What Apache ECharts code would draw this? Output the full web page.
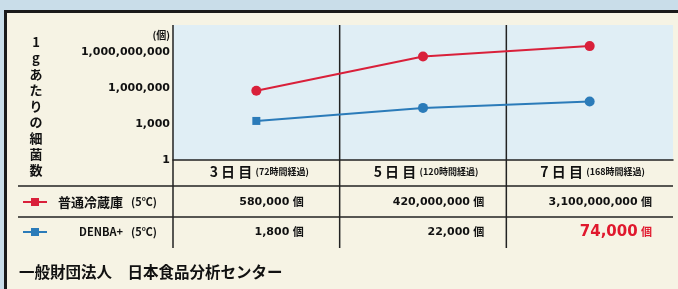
<!DOCTYPE html>
<html lang="ja">
<head>
    <meta charset="UTF-8">
    <title>細菌数の推移</title>
    <script src="https://cdn.jsdelivr.net/npm/echarts@6/dist/echarts.min.js"></script>
    <style>
        html, body { margin: 0; padding: 0; background: #c9dde9; }
        #main { width: 678px; height: 289px; }
    </style>
</head>
<body>
<div id="main"></div>
<script>
    // データ
    var categories = ['3日目', '5日目', '7日目'];
    var hourLabels = ['(72時間経過)', '(120時間経過)', '(168時間経過)'];
    var seriesNames = ['普通冷蔵庫', 'DENBA+'];
    var fridgeValues = [580000, 420000000, 3100000000];
    var denbaValues = [1800, 22000, 74000];
    var yTicks = [1, 1000, 1000000, 1000000000];

    var RED = '#d9203a';
    var BLUE = '#2b7bb9';
    var CJK = '"Noto Sans CJK JP", sans-serif';
    var NUM = '"DejaVu Sans", sans-serif';

    var myChart = echarts.init(document.getElementById('main'));

    function fmt(v) {
        return v.toString().replace(/\B(?=(\d{3})+(?!\d))/g, ',');
    }

    var option = {
        animation: false,
        backgroundColor: '#f6f3e4',
        grid: {
            left: 173,
            right: 5,
            top: 25,
            bottom: 129,
            show: true,
            backgroundColor: '#e0eef5',
            borderWidth: 0
        },
        xAxis: {
            type: 'category',
            data: categories,
            boundaryGap: true,
            axisLine: {lineStyle: {color: '#222', width: 1.5}},
            axisTick: {show: false},
            axisLabel: {show: false},
            splitLine: {show: false}
        },
        yAxis: {
            type: 'log',
            logBase: 1000,
            min: 1,
            max: Math.pow(1000, 3.75),
            axisLine: {show: false},
            axisTick: {show: false},
            splitLine: {show: false},
            axisLabel: {
                margin: 3,
                padding: [5, 0, 0, 0],
                color: '#111',
                fontFamily: NUM,
                fontWeight: 'bold',
                fontSize: 11,
                showMaxLabel: false,
                formatter: function (v) {
                    for (var i = 0; i < yTicks.length; i++) {
                        if (Math.abs(v - yTicks[i]) / yTicks[i] < 1e-6) return fmt(yTicks[i]);
                    }
                    return '';
                }
            }
        },
        series: [{
            name: seriesNames[0],
            type: 'line',
            data: fridgeValues,
            symbol: 'circle',
            symbolSize: 10,
            itemStyle: {color: RED},
            lineStyle: {color: RED, width: 2}
        }, {
            name: seriesNames[1],
            type: 'line',
            data: denbaValues.map(function (v, i) {
                return i === 0 ? {value: v, symbol: 'rect', symbolSize: 8} : v;
            }),
            symbol: 'circle',
            symbolSize: 10,
            itemStyle: {color: BLUE},
            lineStyle: {color: BLUE, width: 2}
        }]
    };

    myChart.setOption(option);

    // 表部分
    var centers = categories.map(function (c) {
        return myChart.convertToPixel({xAxisIndex: 0}, c);
    });
    var colW = centers[1] - centers[0];
    var left = centers[0] - colW / 2;
    var right = centers[2] + colW / 2;
    var rowTop = [160, 186, 217];
    var rowMid = [172, 202, 232];
    var valueOffset = [36, 22, 21];

    var g = [];
    // 枠
    g.push({type: 'rect', shape: {x: 0, y: 0, width: 678, height: 10}, style: {fill: '#c9dde9'}});
    g.push({type: 'rect', shape: {x: 0, y: 0, width: 4, height: 289}, style: {fill: '#c9dde9'}});
    g.push({type: 'rect', shape: {x: 4, y: 10, width: 674, height: 3}, style: {fill: '#1a1a1a'}});
    g.push({type: 'rect', shape: {x: 4, y: 10, width: 3, height: 279}, style: {fill: '#1a1a1a'}});

    // 罫線
    [rowTop[1], rowTop[2]].forEach(function (y) {
        g.push({type: 'line', shape: {x1: 18, y1: y, x2: right, y2: y}, style: {stroke: '#222', lineWidth: 1.5}});
    });
    [left, left + colW, left + 2 * colW].forEach(function (x) {
        g.push({type: 'line', shape: {x1: x, y1: 25, x2: x, y2: 248}, style: {stroke: '#222', lineWidth: 1.5}});
    });

    // 見出し
    categories.forEach(function (c, i) {
        g.push({
            type: 'text', x: centers[i] + 3, y: rowMid[0],
            style: {
                text: '{a|' + c.split('').join(' ') + '} {b|' + hourLabels[i] + '}',
                align: 'center', verticalAlign: 'middle',
                rich: {
                    a: {fontFamily: CJK, fontWeight: 'bold', fontSize: 14, fill: '#111'},
                    b: {fontFamily: CJK, fontWeight: 'bold', fontSize: 9, fill: '#111'}
                }
            }
        });
    });

    // 数値
    fridgeValues.forEach(function (v, i) {
        g.push({
            type: 'text', x: left + colW * (i + 1) - valueOffset[i], y: rowMid[1],
            style: {
                text: '{n|' + fmt(v) + '} {u|個}', align: 'right', verticalAlign: 'middle',
                rich: {
                    n: {fontFamily: NUM, fontWeight: 'bold', fontSize: 11, fill: '#111'},
                    u: {fontFamily: CJK, fontWeight: 'bold', fontSize: 11, fill: '#111'}
                }
            }
        });
    });
    denbaValues.forEach(function (v, i) {
        var last = i === denbaValues.length - 1;
        g.push({
            type: 'text', x: left + colW * (i + 1) - valueOffset[i], y: rowMid[2],
            style: {
                text: '{n|' + fmt(v) + '} {u|個}', align: 'right', verticalAlign: 'middle',
                rich: {
                    n: {fontFamily: NUM, fontWeight: 'bold', fontSize: last ? 15 : 11, fill: last ? '#e0182d' : '#111'},
                    u: {fontFamily: CJK, fontWeight: 'bold', fontSize: 11, fill: last ? '#e0182d' : '#111'}
                }
            }
        });
    });

    // 凡例
    [[RED, rowMid[1], 13], [BLUE, rowMid[2], 11]].forEach(function (d, i) {
        g.push({type: 'line', shape: {x1: 23, y1: d[1], x2: 47, y2: d[1]}, style: {stroke: d[0], lineWidth: 2}});
        g.push({type: 'rect', shape: {x: 31, y: d[1] - 4, width: 8, height: 8}, style: {fill: d[0]}});
        g.push({
            type: 'text', x: 123, y: d[1],
            style: {text: seriesNames[i], align: 'right', verticalAlign: 'middle', fontFamily: CJK, fontWeight: 'bold', fontSize: d[2], fill: '#111'}
        });
        g.push({
            type: 'text', x: 131, y: d[1],
            style: {text: '(5℃)', align: 'left', verticalAlign: 'middle', fontFamily: CJK, fontWeight: 'bold', fontSize: 11, fill: '#111'}
        });
    });

    // 縦軸タイトル・単位
    g.push({
        type: 'text', x: 36, y: 34,
        style: {
            text: '1\ng\nあ\nた\nり\nの\n細\n菌\n数', align: 'center', verticalAlign: 'top',
            fontFamily: CJK, fontWeight: 'bold', fontSize: 13, lineHeight: 16, fill: '#111'
        }
    });
    g.push({
        type: 'text', x: 170, y: 35,
        style: {text: '(個)', align: 'right', verticalAlign: 'middle', fontFamily: CJK, fontWeight: 'bold', fontSize: 10, fill: '#111'}
    });

    // 出典
    g.push({
        type: 'text', x: 19, y: 272,
        style: {text: '一般財団法人　日本食品分析センター', align: 'left', verticalAlign: 'middle', fontFamily: CJK, fontWeight: 'bold', fontSize: 15.5, fill: '#111'}
    });

    myChart.setOption({graphic: g});
</script>
</body>
</html>
